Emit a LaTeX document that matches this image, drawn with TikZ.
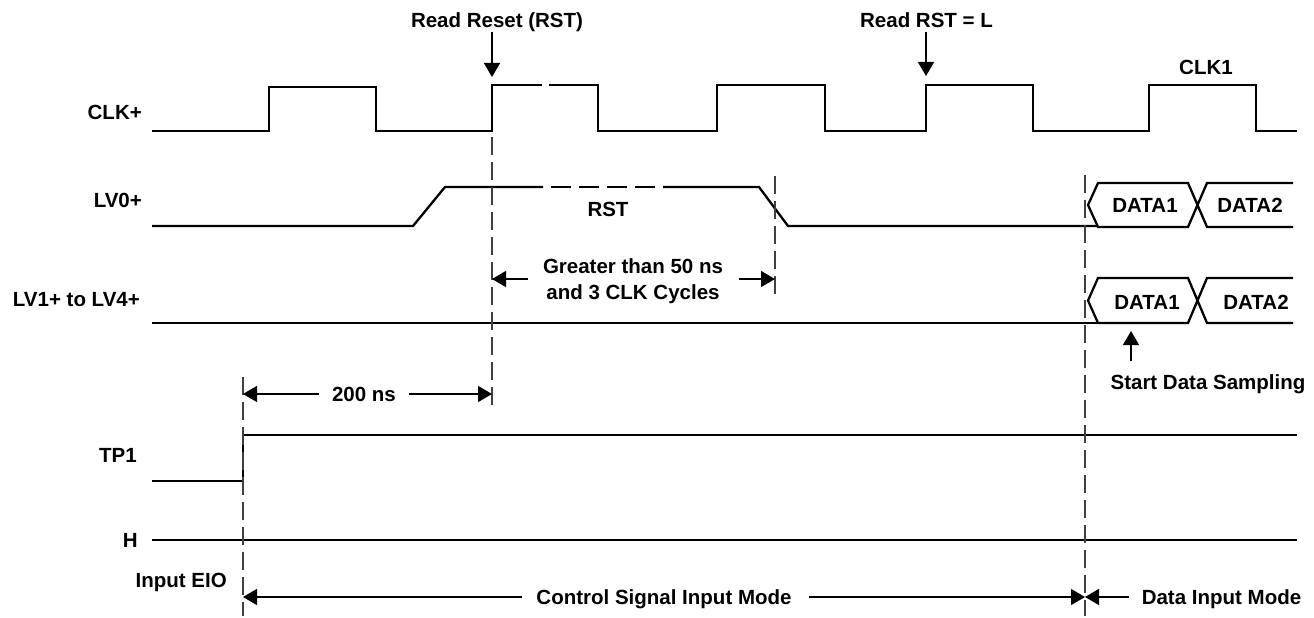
\documentclass[tikz,border=0pt]{standalone}
\usepackage{fontspec}
\setmainfont{Liberation Sans}
\usetikzlibrary{arrows.meta}
\begin{document}
\begin{tikzpicture}[x=1pt,y=-1pt,
  sig/.style={line width=2.3pt, line join=miter},
  guide/.style={line width=1.2pt, black!75, dash pattern=on 18pt off 7pt},
  dim/.style={line width=1.3pt},
  tipr/.style={-{Triangle[length=14pt,width=16pt]}},
  lbl/.style={font=\bfseries\fontsize{20.5}{24}\selectfont, inner sep=0pt, text height=14.7pt, text depth=0pt},
]
\useasboundingbox (0,0) rectangle (1314,618);

% left labels
\node[lbl, anchor=east] (lclk) at (142,112) {CLK+};
\node[lbl, anchor=east] (llv0) at (142,200) {LV0+};
\node[lbl, anchor=east] (llv1) at (140,299) {LV1+ to LV4+};
\node[lbl, anchor=east] (ltp1) at (137,455) {TP1};
\node[lbl, anchor=east] (lh) at (138,540) {H};
\node[lbl, anchor=east] (leio) at (227,580) {Input EIO};

% CLK+
\draw[sig] (152,131) -- (269,131) -- (269,87) -- (376,87) -- (376,131) -- (492,131) -- (492,85) -- (542,85);
\draw[sig] (549,85) -- (598,85) -- (598,131) -- (717,131) -- (717,85) -- (825,85) -- (825,131) -- (926,131) -- (926,85) -- (1033,85) -- (1033,131) -- (1149,131) -- (1149,85) -- (1256,85) -- (1256,131) -- (1297,131);

% LV0+
\draw[sig] (152,226) -- (413,226) -- (445,187) -- (543,187);
\draw[sig, dash pattern=on 20pt off 8pt] (551,187) -- (659,187);
\draw[sig] (663,187) -- (759,187) -- (788,226) -- (1098,226);
\draw[sig] (1293,183) -- (1207,183) -- (1188,227) -- (1098,227) -- (1088,205) -- (1098,183) -- (1188,183) -- (1207,227) -- (1293,227);

% LV1+ to LV4+
\draw[sig] (152,323) -- (1098,323);
\draw[sig] (1293,278) -- (1207,278) -- (1188,323) -- (1098,323) -- (1088,300.5) -- (1098,278) -- (1188,278) -- (1207,323) -- (1293,323);

% TP1, H
\draw[sig] (152,481) -- (243,481) -- (243,435) -- (1297,435);
\draw[sig] (152,540) -- (1297,540);

% guides
\draw[guide] (492,137) -- (492,410);
\draw[guide] (243,377) -- (243,616);
\draw[guide] (775,176) -- (775,296);
\draw[guide] (1085,175) -- (1085,616);

% top annotations
\node[lbl] (rr) at (497,20) {Read Reset (RST)};
\coordinate (rrtip) at (492,77);
\draw[dim,tipr] (rr.south -| rrtip) ++(0,4) -- (rrtip);
\node[lbl] (rl) at (926.5,20) {Read RST = L};
\coordinate (rltip) at (926,76);
\draw[dim,tipr] (rl.south -| rltip) ++(0,4) -- (rltip);
\node[lbl] (clk1) at (1206,67) {CLK1};

\node[lbl] (rst) at (608,209) {RST};

% greater than
\node[lbl] (g1) at (633,266) {Greater than 50 ns};
\node[lbl] (g2) at (633,292) {and 3 CLK Cycles};
\coordinate (ga) at (492,279);
\coordinate (gb) at (775,279);
\coordinate (gal) at (528,279);
\coordinate (gbl) at (739,279);
\draw[dim,tipr] (gal) -- (ga);
\draw[dim,tipr] (gbl) -- (gb);

% 200 ns
\node[lbl] (t200) at (364,394) {200 ns};
\coordinate (ta) at (243,394);
\coordinate (tb) at (492,394);
\draw[dim,tipr] (t200.west) ++(-13,0) -- (ta);
\draw[dim,tipr] (t200.east) ++(13,0) -- (tb);

% start data sampling
\node[lbl] (sds) at (1208,382) {Start Data Sampling};
\coordinate (sdtip) at (1131,331);
\coordinate (sdtail) at (1131,361);
\draw[dim,tipr] (sdtail) -- (sdtip);

% data labels
\node[lbl] (d01) at (1145,205) {DATA1};
\node[lbl] (d02) at (1250,205) {DATA2};
\node[lbl] (d11) at (1147,302) {DATA1};
\node[lbl] (d12) at (1256,302) {DATA2};

% bottom
\node[lbl] (csm) at (664,597) {Control Signal Input Mode};
\node[lbl] (dim) at (1221.5,597) {Data Input Mode};
\coordinate (ba) at (243,597);
\coordinate (bb) at (1085,597);
\draw[dim,tipr] (csm.west) ++(-14,0) -- (ba);
\draw[dim,tipr] (csm.east) ++(17,0) -- (bb);
\draw[dim,tipr] (dim.west) ++(-13,0) -- (bb);
\end{tikzpicture}
\end{document}
